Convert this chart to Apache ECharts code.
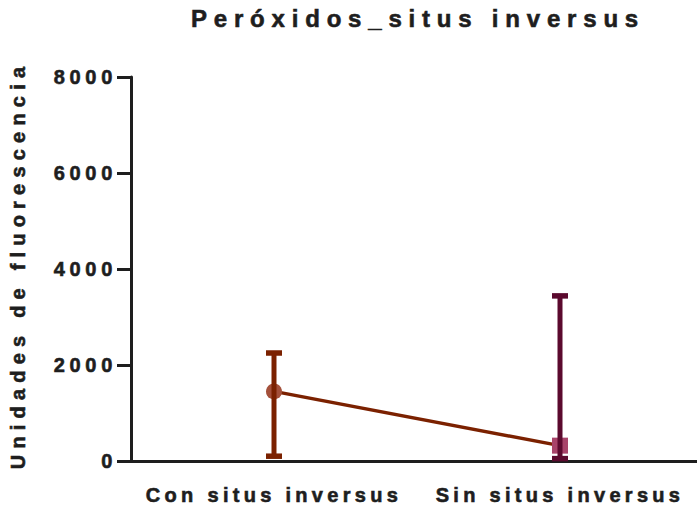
<!DOCTYPE html>
<html>
<head>
<meta charset="utf-8">
<script src="https://cdn.jsdelivr.net/npm/echarts@6/dist/echarts.min.js"></script>
<style>
  html, body { margin: 0; padding: 0; background: #fff; }
  #chart { width: 697px; height: 506px; }
</style>
</head>
<body>
<div id="chart"></div>
<script>
// Chart data
const chartTitle = 'Peróxidos_situs inversus';
const yAxisTitle = 'Unidades de fluorescencia';
const categories = ['Con situs inversus', 'Sin situs inversus'];
const meanValues = [1450, 320];
const upperValues = [2250, 3440];
const lowerValues = [100, 50];
const yTickLabels = ['0', '2000', '4000', '6000', '8000'];

// Styling
const FONT = '"Liberation Sans", Arial, Helvetica, sans-serif';
const INK = '#1e1e1e';
const lineColor = '#7b2100';
const barColors = ['#7b2100', '#5b0a2e'];
const markerColors = ['#a4503a', '#a8446a'];
const markerShapes = ['circle', 'rect'];
const boldText = (size) => ({
  fontFamily: FONT, fontSize: size, fontWeight: 'bold', color: INK,
  textBorderColor: INK, textBorderWidth: 0.6
});

const yMin = Number(yTickLabels[0]);
const yMax = Number(yTickLabels[yTickLabels.length - 1]);
const yStep = Number(yTickLabels[1]) - yMin;

const chart = echarts.init(document.getElementById('chart'), null, { renderer: 'svg' });

function renderErrorBar(params, api) {
  const idx = params.dataIndex;
  const pHi = api.coord([api.value(0), api.value(1)]);
  const pLo = api.coord([api.value(0), api.value(2)]);
  const color = barColors[idx];
  const capW = 16, capH = 5.5, stemW = 5;
  return {
    type: 'group',
    children: [
      { type: 'rect', shape: { x: pHi[0] - stemW / 2, y: pHi[1], width: stemW, height: pLo[1] - pHi[1] }, style: { fill: color } },
      { type: 'rect', shape: { x: pHi[0] - capW / 2, y: pHi[1] - capH / 2, width: capW, height: capH }, style: { fill: color } },
      { type: 'rect', shape: { x: pLo[0] - capW / 2, y: pLo[1] - capH / 2, width: capW, height: capH }, style: { fill: color } }
    ]
  };
}

const option = {
  animation: false,
  backgroundColor: '#ffffff',
  title: {
    text: chartTitle,
    left: 418,
    top: 6,
    textAlign: 'center',
    padding: 0,
    textStyle: boldText(24)
  },
  grid: { left: 131, top: 77, bottom: 45, width: 572, containLabel: false, outerBoundsMode: 'none' },
  xAxis: {
    type: 'category',
    data: categories,
    boundaryGap: true,
    axisLine: { lineStyle: { color: INK, width: 3 } },
    axisTick: { alignWithLabel: true, length: 12, lineStyle: { color: INK, width: 3 } },
    axisLabel: Object.assign({ margin: 24, hideOverlap: false }, boldText(20)),
    splitLine: { show: false }
  },
  yAxis: {
    type: 'value',
    min: yMin,
    max: yMax,
    interval: yStep,
    name: yAxisTitle,
    nameLocation: 'middle',
    nameGap: 103,
    nameTextStyle: Object.assign({ padding: [0, 0, 0, 8] }, boldText(20)),
    axisLine: { show: true, lineStyle: { color: INK, width: 3 } },
    axisTick: { show: true, length: 14, lineStyle: { color: INK, width: 3 } },
    axisLabel: Object.assign({ margin: 14, formatter: (v) => String(v) }, boldText(20)),
    splitLine: { show: false }
  },
  series: [
    {
      type: 'line',
      z: 2,
      data: meanValues.map((v, i) => ({
        value: v,
        symbol: markerShapes[i],
        symbolSize: 16,
        itemStyle: { color: markerColors[i], opacity: 1 }
      })),
      lineStyle: { color: lineColor, width: 3.5 },
      showSymbol: true
    },
    {
      type: 'custom',
      z: 3,
      renderItem: renderErrorBar,
      data: categories.map((c, i) => [i, upperValues[i], lowerValues[i]])
    }
  ]
};

chart.setOption(option);

// Letter spacing for the wide-tracked typography (SVG text honours CSS letter-spacing)
const spacingByText = {};
spacingByText[chartTitle] = 6.8;
spacingByText[yAxisTitle] = 6.2;
categories.forEach(c => { spacingByText[c] = 4.3; });
yTickLabels.forEach(t => { spacingByText[t] = 4.7; });

function applySpacing() {
  document.querySelectorAll('#chart svg text').forEach(el => {
    const s = spacingByText[el.textContent];
    if (s !== undefined) el.style.letterSpacing = s + 'px';
  });
}
chart.on('finished', applySpacing);
if (chart.getZr().flush) chart.getZr().flush();
applySpacing();
setTimeout(applySpacing, 0);
</script>
</body>
</html>
